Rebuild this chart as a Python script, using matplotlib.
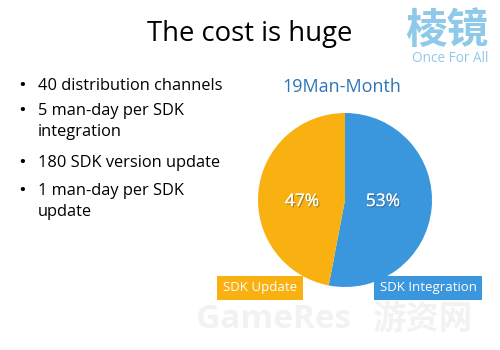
import matplotlib.pyplot as plt
import matplotlib.patheffects as pe

# slide content
title = "The cost is huge"
bullets = ["40 distribution channels", "5 man-day per SDK\nintegration",
           "180 SDK version update", "1 man-day per SDK\nupdate"]
bullet_y = [85, 110, 162, 190]  # pixel rows from top

# pie data (clockwise from 12 o'clock)
labels = ["SDK Integration", "SDK Update"]
shares = [53, 47]
colors = ["#3A96DD", "#F9B111"]
pie_title = "19Man-Month"

fig = plt.figure(figsize=(5, 3.5), dpi=100)
ax = fig.add_axes([0, 0, 1, 1])
H = 350

font = "Open Sans"

ax.pie(shares, colors=colors, startangle=90, counterclock=False,
       center=(345, H - 200), radius=87,
       wedgeprops=dict(linewidth=0))
ax.set_xlim(0, 500)
ax.set_ylim(0, H)
ax.set_aspect("equal")
ax.axis("off")

shadow = [pe.withSimplePatchShadow(offset=(1, -1), shadow_rgbFace="#555555", alpha=0.5), pe.Normal()]
ax.text(302, H - 202, f"{shares[1]}%", color="white", fontsize=12.5, family=font,
        ha="center", va="center", path_effects=shadow)
ax.text(383, H - 202, f"{shares[0]}%", color="white", fontsize=12.5, family=font,
        ha="center", va="center", path_effects=shadow)

# category boxes under the pie
ax.text(260, H - 288, labels[1], color="white", fontsize=9.5, family=font,
        ha="center", va="center",
        bbox=dict(boxstyle="square,pad=0.45", fc=colors[1], ec="none"))
ax.text(428, H - 288, labels[0], color="white", fontsize=9.5, family=font,
        ha="center", va="center",
        bbox=dict(boxstyle="square,pad=0.45", fc=colors[0], ec="none"))

ax.text(342, H - 87, pie_title, color="#2E75B6", fontsize=13, family=font,
        ha="center", va="center")

ax.text(250, H - 34, title, color="black", fontsize=19.8, family=font,
        ha="center", va="center")

for txt, y in zip(bullets, bullet_y):
    ax.text(19, H - y, "•", fontsize=11, weight="bold", family=font,
            va="center", ha="left")
    ax.text(38, H - y + 7, txt, fontsize=11.8, family=font, va="top", ha="left",
            linespacing=1.45)

# logo and watermark
ax.text(447, H - 31, "棱镜", color="#8FC9EA", fontsize=30, weight="bold",
        family=["Noto Sans CJK SC", "DejaVu Sans"], ha="center", va="center")
ax.text(450, H - 58, "Once For All", color="#8FC9EA", fontsize=9.8, family=font,
        ha="center", va="center")
ax.text(274, H - 320, "GameRes", color="#f2f2f2", fontsize=24, weight="bold",
        family=font, ha="center", va="center")
ax.text(422, H - 320, "游资网", color="#f2f2f2", fontsize=24, weight="bold",
        family=["Noto Sans CJK SC", "DejaVu Sans"], ha="center", va="center")

fig.savefig("out.png", dpi=100)
